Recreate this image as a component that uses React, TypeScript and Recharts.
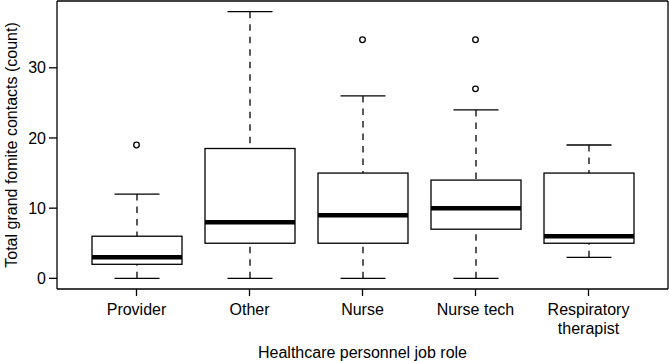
import React from 'react'
import { ComposedChart, Bar, Line, XAxis, YAxis } from 'recharts'

const categories = ['Provider', 'Other', 'Nurse', 'Nurse tech', 'Respiratory\ntherapist']
const whiskerLow = [0, 0, 0, 0, 3]
const q1 = [2, 5, 5, 7, 5]
const median = [3, 8, 9, 10, 6]
const q3 = [6, 18.5, 15, 14, 15]
const whiskerHigh = [12, 38, 26, 24, 19]
const outlierA = [19, null, 34, 34, null]
const outlierB = [null, null, null, 27, null]
const yTicks = [0, 10, 20, 30]

const data = categories.map((name, i) => ({
  name,
  lo: whiskerLow[i],
  q1: q1[i],
  med: median[i],
  q3: q3[i],
  hi: whiskerHigh[i],
  out1: outlierA[i],
  out2: outlierB[i],
}))

const FONT = '"Liberation Sans", Arial, Helvetica, sans-serif'
const FS = 16
const LW = 1.3
const Y_DOMAIN: [number, number] = [-1.52, 39.52]

// whole box-and-whisker drawn from the bar's [lo, hi] pixel extent
function BoxShape(props: any) {
  const { x, y, width, height, payload } = props
  if (x == null || y == null) return null
  const top = Math.min(y, y + height)
  const bottom = Math.max(y, y + height)
  const { lo, hi } = payload
  const py = (v: number) => bottom - ((v - lo) / (hi - lo)) * (bottom - top)
  const cx = x + width / 2
  const cap = width / 4
  return (
    <g>
      <line x1={cx} x2={cx} y1={py(hi)} y2={py(payload.q3)} stroke="#000" strokeWidth={LW} strokeDasharray="6.5 6" />
      <line x1={cx} x2={cx} y1={py(lo)} y2={py(payload.q1)} stroke="#000" strokeWidth={LW} strokeDasharray="6.5 6" />
      <line x1={cx - cap} x2={cx + cap} y1={py(hi)} y2={py(hi)} stroke="#000" strokeWidth={LW} />
      <line x1={cx - cap} x2={cx + cap} y1={py(lo)} y2={py(lo)} stroke="#000" strokeWidth={LW} />
      <rect
        x={x}
        y={py(payload.q3)}
        width={width}
        height={py(payload.q1) - py(payload.q3)}
        fill="#fff"
        stroke="#000"
        strokeWidth={LW}
      />
      <line x1={x} x2={x + width} y1={py(payload.med)} y2={py(payload.med)} stroke="#000" strokeWidth={4.5} />
    </g>
  )
}

function OpenDot(props: any) {
  const { cx, cy, value, index } = props
  if (value == null || cy == null || Number.isNaN(cy)) return <g key={index} />
  return <circle key={index} cx={cx} cy={cy} r={2.8} fill="#fff" stroke="#000" strokeWidth={LW} />
}

function XTick(props: any) {
  const { x, y, payload } = props
  const lines = String(payload.value).split('\n')
  return (
    <text x={x} y={y} textAnchor="middle" fontSize={FS} fill="#000" fontFamily={FONT}>
      {lines.map((l, i) => (
        <tspan key={i} x={x} dy={i === 0 ? '0.71em' : 19}>
          {l}
        </tspan>
      ))}
    </text>
  )
}

export default function App() {
  return (
    <div style={{ width: 669, height: 361, background: '#fff' }}>
      <style>{`body{margin:0}`}</style>
      <ComposedChart width={669} height={361} data={data} margin={{ top: 0, right: 0, left: 0, bottom: 0 }}>
        <XAxis
          dataKey="name"
          interval={0}
          padding={{ left: 23, right: 23 }}
          height={72}
          tickSize={7}
          tickMargin={8}
          tick={<XTick />}
          axisLine={{ stroke: '#000', strokeWidth: LW }}
          tickLine={{ stroke: '#000', strokeWidth: LW }}
          label={{
            value: 'Healthcare personnel job role',
            position: 'insideBottom',
            offset: 3,
            fill: '#000',
            fontSize: FS,
            fontFamily: FONT,
          }}
        />
        <XAxis
          xAxisId="top"
          orientation="top"
          dataKey="name"
          height={1}
          tick={false}
          tickLine={false}
          padding={{ left: 23, right: 23 }}
          axisLine={{ stroke: '#000', strokeWidth: LW }}
        />
        <YAxis
          type="number"
          domain={Y_DOMAIN}
          allowDataOverflow
          ticks={yTicks}
          width={57}
          tickSize={8}
          tickMargin={3}
          tick={{ fill: '#000', fontSize: FS, fontFamily: FONT }}
          axisLine={{ stroke: '#000', strokeWidth: LW }}
          tickLine={{ stroke: '#000', strokeWidth: LW }}
          label={{
            value: 'Total grand fomite contacts (count)',
            angle: -90,
            position: 'insideLeft',
            offset: 11,
            fill: '#000',
            fontSize: FS,
            fontFamily: FONT,
            style: { textAnchor: 'middle' },
          }}
        />
        <YAxis
          yAxisId="right"
          orientation="right"
          type="number"
          domain={Y_DOMAIN}
          allowDataOverflow
          width={1}
          tick={false}
          tickLine={false}
          axisLine={{ stroke: '#000', strokeWidth: LW }}
        />
        <Bar
          dataKey={(d: any) => [d.lo, d.hi]}
          barSize={90}
          shape={<BoxShape />}
          isAnimationActive={false}
        />
        <Line dataKey="out1" stroke="none" dot={<OpenDot />} activeDot={false} isAnimationActive={false} />
        <Line
          dataKey="out2"
          xAxisId="top"
          yAxisId="right"
          stroke="none"
          dot={<OpenDot />}
          activeDot={false}
          isAnimationActive={false}
        />
      </ComposedChart>
    </div>
  )
}
